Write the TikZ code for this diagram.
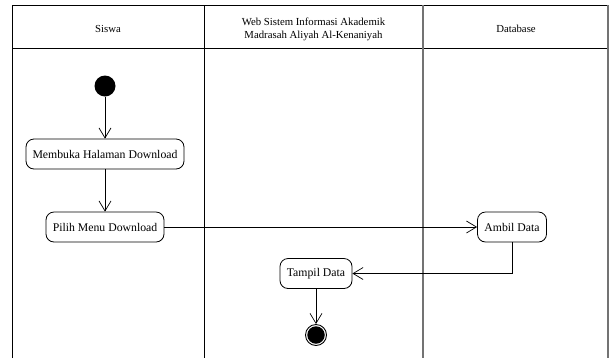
\documentclass[tikz,border=0pt]{standalone}
\usepackage{fontspec}
\setmainfont{Liberation Serif}
\usetikzlibrary{arrows.meta}
\tikzset{
  lane/.style={line width=0.9bp, draw=black},
  lanegray/.style={line width=1.1bp, draw=black!55},
  act/.style={draw, line width=0.8bp, rounded corners=8bp, minimum height=30bp, inner xsep=5bp, font=\fontsize{11.8}{13}\selectfont, fill=white},
  flow/.style={line width=0.7bp, -{Straight Barb[length=10bp,width=12bp,line width=0.7bp]}},
  hdr/.style={font=\fontsize{10.8}{13}\selectfont, align=center}
}
\begin{document}
\begin{tikzpicture}[x=1bp,y=-1bp]
\useasboundingbox (0,0) rectangle (615,358);
% swimlanes
\draw[lane] (12,358) -- (12,5) -- (609,5);
\draw[lane] (12,48) -- (609,48);
\draw[lane] (204,5) -- (204,358);
\draw[lanegray] (423,5) -- (423,358);
\draw[lanegray] (608,5) -- (608,358);
\node[hdr] (h1) at (108,29) {Siswa};
\node[hdr] (h2) at (313.5,29) {Web Sistem Informasi Akademik\\Madrasah Aliyah Al-Kenaniyah};
\node[hdr] (h3) at (516,29) {Database};
% nodes
\node[circle, fill=black, minimum size=21bp, inner sep=0] (start) at (105,86) {};
\node[act, minimum width=158bp] (a1) at (105,154) {Membuka Halaman Download};
\node[act, minimum width=118bp] (a2) at (105,227) {Pilih Menu Download};
\node[act, minimum width=69bp] (a3) at (512,227) {Ambil Data};
\node[act, minimum width=72bp] (a4) at (316,273.5) {Tampil Data};
\node[circle, draw=black, line width=0.9bp, minimum size=21bp, inner sep=0] (end) at (316,335) {};
\node[circle, fill=black, minimum size=17.5bp, inner sep=0] (endin) at (end.center) {};
% flows
\draw[flow] (start) -- (a1);
\draw[flow] (a1) -- (a2);
\draw[flow] (a2) -- (a3);
\draw[flow] (a3.south) |- (a4.east);
\draw[flow] (a4) -- (end);
\end{tikzpicture}
\end{document}
